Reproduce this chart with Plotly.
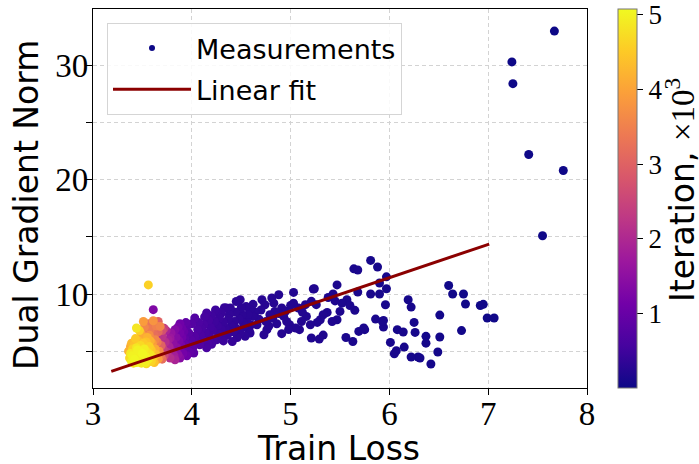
import plotly.graph_objects as go

# ---------------- data ----------------
train_loss = [
    # early outliers
    7.67, 7.24, 7.25, 7.41, 7.76, 7.55,
    # 6.2 - 7.1
    6.60, 6.64, 6.75, 6.77, 6.92, 6.95, 6.99, 7.06, 6.73, 6.51, 6.51, 6.37, 6.37, 6.49, 6.42, 6.31, 6.29, 6.22,
    # 5.8 - 6.3
    5.81, 5.88, 5.97, 5.90, 5.97, 5.90, 5.81, 5.96, 6.19, 6.22, 5.94, 5.94, 6.25, 6.08, 6.14, 6.26, 6.01, 6.15,
    6.07, 6.05, 5.86, 5.93,
    # 5.2 - 5.8
    5.64, 5.68, 5.47, 5.68, 5.65, 5.57, 5.52, 5.43, 5.50, 5.47, 5.42, 5.37, 5.33, 5.30, 5.27, 5.24, 5.21, 5.26,
    5.21, 5.29, 5.33, 5.56, 5.63, 5.69, 5.75, 5.74, 5.60, 5.45, 5.38,
    # 4.45 - 5.25
    5.03, 5.03, 4.88, 5.08, 5.15, 5.16, 5.20, 5.11, 5.09, 4.99, 5.05, 4.91, 4.76, 4.73, 4.71, 4.74, 4.83, 4.84,
    4.79, 4.93, 4.96, 4.91, 4.59, 4.62, 4.56, 4.66, 4.49, 4.51, 4.81, 5.23, 4.45, 4.55, 4.60, 4.64, 4.68, 4.70,
    4.75, 4.78, 4.82, 4.86, 4.88, 4.95, 4.98, 4.53, 4.58, 4.62, 5.00, 5.12,
    # 3.9 - 4.6 dense band
    3.92, 3.93, 3.95, 3.96, 3.97, 3.98, 3.99, 4.00, 4.01, 4.02, 4.03, 4.03, 4.05, 4.06, 4.07, 4.08, 4.09, 4.10,
    4.11, 4.12, 4.13, 4.14, 4.15, 4.16, 4.17, 4.18, 4.19, 4.20, 4.21, 4.22, 4.23, 4.24, 4.25, 4.25, 4.26, 4.27,
    4.28, 4.30, 4.30, 4.31, 4.32, 4.33, 4.34, 4.35, 4.36, 4.37, 4.38, 4.39, 4.40, 4.41, 4.42, 4.43, 4.44, 4.45,
    4.46, 4.48, 4.49, 4.50, 4.52, 4.54, 4.57, 4.59, 4.20, 4.32, 4.15,
    # 3.7 - 3.95
    3.70, 3.71, 3.72, 3.73, 3.74, 3.75, 3.76, 3.77, 3.78, 3.78, 3.79, 3.80, 3.81, 3.82, 3.83, 3.83, 3.84, 3.85,
    3.86, 3.86, 3.87, 3.88, 3.88, 3.89, 3.90, 3.90, 3.91, 3.92, 3.93, 3.94, 3.88, 3.95,
    # 3.35 - 3.72 late iterations
    3.56, 3.61, 3.51, 3.61, 3.44, 3.53, 3.68, 3.61, 3.60, 3.68, 3.38, 3.51,
    3.36, 3.37, 3.38, 3.39, 3.40, 3.40, 3.41, 3.42, 3.42, 3.43, 3.44, 3.44, 3.45, 3.46, 3.46, 3.47, 3.48, 3.48,
    3.49, 3.50, 3.50, 3.51, 3.52, 3.53, 3.54, 3.54, 3.55, 3.56, 3.57, 3.57, 3.58, 3.59, 3.59, 3.60, 3.61, 3.62,
    3.62, 3.63, 3.64, 3.64, 3.65, 3.66, 3.66, 3.67, 3.68, 3.69, 3.70, 3.70, 3.63, 3.58, 3.55, 3.49, 3.47, 3.52,
    3.56, 3.66, 3.72, 3.45, 3.53, 3.58, 3.39, 3.43,
]

grad_norm = [
    33.0, 30.3, 28.4, 22.2, 20.8, 15.1,
    10.75, 10.00, 10.00, 9.13, 9.00, 9.10, 7.90, 7.90, 6.80, 8.16, 6.24, 6.30, 5.70, 4.93, 3.88, 4.40, 4.49, 4.49,
    12.94, 12.36, 11.50, 10.96, 10.46, 10.00, 10.00, 9.06, 9.50, 8.86, 7.69, 7.11, 7.52, 6.88, 6.68, 6.64, 5.77, 5.36,
    5.04, 4.78, 7.81, 7.60,
    12.20, 12.10, 10.80, 10.17, 8.57, 9.50, 9.20, 10.00, 8.48, 7.75, 7.60, 8.39, 8.19, 7.75, 7.52, 10.46, 9.36, 9.07,
    6.15, 6.06, 6.41, 6.20, 5.85, 6.73, 6.88, 7.03, 9.00, 9.40, 9.70,
    10.14, 9.20, 9.94, 8.78, 9.07, 8.04, 7.31, 7.60, 6.88, 7.31, 7.03, 6.53, 6.88, 6.44, 9.50, 9.06, 9.20, 8.48,
    8.19, 8.04, 7.60, 8.78, 8.63, 8.04, 7.75, 7.31, 9.50, 8.19, 9.65, 10.44, 9.35, 8.90, 7.30, 8.40, 7.80, 8.60,
    7.60, 7.20, 7.90, 7.40, 8.30, 8.50, 6.90, 7.10, 6.80, 9.10, 9.00, 8.40,
    5.20, 6.10, 7.17, 5.60, 6.60, 4.90, 6.00, 7.40, 5.30, 4.84, 7.90, 6.30, 5.80, 6.90, 7.50, 5.56, 6.40, 7.00,
    5.90, 7.31, 8.00, 6.60, 8.34, 5.70, 7.70, 6.20, 7.10, 8.10, 6.80, 6.00, 7.60, 8.60, 6.00, 8.48, 7.20, 6.50,
    7.90, 8.34, 6.90, 6.20, 7.50, 8.80, 7.00, 8.78, 6.40, 7.80, 8.20, 8.78, 7.20, 5.85, 6.70, 7.60, 8.40, 7.00,
    6.20, 7.80, 6.60, 8.80, 7.50, 6.30, 8.20, 6.59, 5.60, 5.90, 5.30,
    6.30, 5.20, 4.60, 5.80, 6.80, 4.90, 6.00, 5.40, 6.15, 4.40, 6.60, 5.00, 5.70, 4.60, 6.88, 4.25, 6.20, 5.30,
    7.10, 4.70, 5.90, 6.60, 4.40, 5.50, 7.00, 6.20, 4.80, 6.70, 5.60, 7.50, 7.40, 4.60,
    10.80, 8.63, 7.60, 7.66, 7.03, 6.73, 7.17, 6.88, 6.15, 6.15, 5.42, 5.71,
    5.00, 4.40, 4.80, 4.10, 5.20, 4.60, 3.95, 5.60, 4.30, 4.90, 5.30, 4.00, 4.60, 5.90, 4.20, 5.00, 4.40, 5.50,
    3.95, 4.80, 6.20, 4.20, 5.20, 4.55, 5.80, 3.90, 4.90, 4.30, 5.40, 6.40, 4.70, 4.10, 5.10, 5.70, 4.50, 6.40,
    4.00, 5.20, 4.70, 7.20, 5.80, 4.30, 6.70, 5.00, 4.60, 5.50, 4.30, 6.80, 6.00, 6.90, 6.20, 6.50, 6.80, 7.10,
    7.40, 7.60, 7.00, 5.10, 4.00, 5.90, 5.70, 6.10,
]

iteration_k = [
    0.00, 0.01, 0.01, 0.02, 0.02, 0.03,
    0.04, 0.05, 0.04, 0.05, 0.03, 0.04, 0.03, 0.04, 0.06, 0.06, 0.07, 0.07, 0.08, 0.07, 0.08, 0.09, 0.08, 0.09,
    0.09, 0.10, 0.10, 0.11, 0.10, 0.11, 0.12, 0.11, 0.09, 0.10, 0.12, 0.12, 0.09, 0.10, 0.11, 0.10, 0.11, 0.10,
    0.12, 0.11, 0.13, 0.12,
    0.13, 0.14, 0.15, 0.14, 0.15, 0.16, 0.16, 0.17, 0.17, 0.16, 0.18, 0.18, 0.19, 0.19, 0.20, 0.18, 0.20, 0.19,
    0.18, 0.19, 0.17, 0.15, 0.14, 0.14, 0.13, 0.14, 0.16, 0.17, 0.17,
    0.21, 0.22, 0.23, 0.21, 0.20, 0.21, 0.20, 0.22, 0.22, 0.23, 0.23, 0.24, 0.26, 0.27, 0.26, 0.26, 0.25, 0.25,
    0.26, 0.24, 0.24, 0.24, 0.29, 0.29, 0.30, 0.28, 0.31, 0.31, 0.25, 0.19, 0.32, 0.30, 0.29, 0.28, 0.28, 0.27,
    0.27, 0.26, 0.25, 0.25, 0.24, 0.23, 0.23, 0.30, 0.29, 0.28, 0.22, 0.21,
    0.95, 0.90, 0.85, 0.88, 0.82, 0.92, 0.80, 0.75, 0.82, 0.85, 0.70, 0.74, 0.72, 0.68, 0.66, 0.70, 0.64, 0.62,
    0.63, 0.60, 0.58, 0.58, 0.55, 0.60, 0.55, 0.56, 0.53, 0.50, 0.52, 0.54, 0.49, 0.47, 0.50, 0.46, 0.47, 0.48,
    0.45, 0.43, 0.44, 0.45, 0.42, 0.40, 0.41, 0.39, 0.42, 0.38, 0.37, 0.36, 0.37, 0.40, 0.37, 0.35, 0.34, 0.35,
    0.36, 0.33, 0.34, 0.31, 0.31, 0.32, 0.30, 0.30, 0.55, 0.46, 0.60,
    2.20, 2.40, 2.60, 2.10, 1.90, 2.20, 1.80, 1.90, 1.70, 2.10, 1.60, 1.70, 1.50, 1.80, 1.35, 1.90, 1.40, 1.45,
    1.20, 1.50, 1.25, 1.15, 1.40, 1.20, 1.05, 1.10, 1.15, 1.00, 1.00, 0.90, 1.10, 1.05,
    4.60, 1.30, 3.90, 3.80, 4.85, 3.30, 3.60, 3.00, 2.80, 2.10, 4.10, 4.50,
    4.20, 4.70, 4.90, 4.95, 4.60, 5.00, 4.80, 4.40, 5.05, 4.75, 4.85, 5.00, 4.95, 4.30, 4.90, 5.00, 4.80, 4.70,
    4.90, 5.05, 4.10, 4.85, 4.95, 5.00, 4.40, 4.70, 4.80, 4.90, 4.60, 3.70, 4.85, 4.65, 4.50, 3.90, 4.55, 3.20,
    4.40, 4.10, 4.30, 3.50, 3.40, 3.90, 3.10, 3.70, 3.40, 3.00, 3.20, 2.70, 3.60, 3.40, 4.20, 4.00, 4.60, 3.60,
    3.30, 3.00, 2.40, 5.00, 4.95, 4.20, 4.30, 4.50,
]

fit_x = [3.185, 7.01]
fit_y = [3.23, 14.37]

x_ticks = [3, 4, 5, 6, 7, 8]
y_ticks = [5, 10, 15, 20, 25, 30]
y_tick_text = ["", "10", "", "20", "", "30"]
cbar_ticks = [1, 2, 3, 4, 5]

# draw in iteration order so later iterations sit on top
order = sorted(range(len(iteration_k)), key=lambda i: iteration_k[i])
xs = [train_loss[i] for i in order]
ys = [grad_norm[i] for i in order]
cs = [iteration_k[i] for i in order]

# ---------------- layout geometry ----------------
W, H = 699, 464
L, R, T, B = 93, 112, 9, 76
plot_w = W - L - R
plot_h = H - T - B


def px_to_paper_x(px):
    return (px - L) / plot_w


def px_to_paper_y(py):
    return 1 - (py - T) / plot_h


TICK_FONT = "Liberation Serif"
TEXT_FONT = "DejaVu Sans"

fig = go.Figure()

fig.add_trace(go.Scatter(
    x=xs, y=ys, mode="markers", name="Measurements",
    showlegend=False,
    marker=dict(
        size=9, color=cs, colorscale="Plasma", cmin=0, cmax=5.08,
        line=dict(width=0),
        colorbar=dict(
            x=px_to_paper_x(618.3), xanchor="left", xpad=0,
            y=0.5, yanchor="middle", ypad=0,
            len=1, lenmode="fraction",
            thickness=18.5, thicknessmode="pixels",
            tickvals=cbar_ticks, ticks="outside", ticklen=6, tickwidth=1, tickcolor="black",
            tickfont=dict(family=TICK_FONT, size=27, color="black"),
            outlinewidth=1, outlinecolor="#777777",
        ),
    ),
))

# legend entry for the measurements (small dot as in the reference legend)
fig.add_trace(go.Scatter(
    x=[None], y=[None], mode="markers", name="Measurements",
    legendgroup="a",
    marker=dict(size=6, color="#0d0887"),
))

fig.add_trace(go.Scatter(
    x=fit_x, y=fit_y, mode="lines", name="Linear fit",
    legendgroup="b",
    line=dict(color="#8b0000", width=3),
))

axis_common = dict(
    showline=True, linecolor="black", linewidth=1.2, mirror=True,
    ticks="outside", ticklen=6, tickwidth=1.2, tickcolor="black",
    showgrid=True, gridcolor="#d3d3d3", gridwidth=1, griddash="4px,3px",
    zeroline=False, automargin=False,
    tickfont=dict(family=TICK_FONT, size=33, color="black"),
)

title_font = dict(family=TEXT_FONT, size=33, color="black")

fig.update_layout(
    width=W, height=H,
    margin=dict(l=L, r=R, t=T, b=B, autoexpand=False),
    paper_bgcolor="white", plot_bgcolor="white",
    font=dict(family=TEXT_FONT, color="black"),
    xaxis=dict(range=[3, 8], tickvals=x_ticks, ticklabelstandoff=-10, **axis_common),
    yaxis=dict(range=[1.78, 34.93], tickvals=y_ticks, ticktext=y_tick_text,
               ticklabelstandoff=-9, **axis_common),
    legend=dict(
        x=px_to_paper_x(107), y=px_to_paper_y(23), xanchor="left", yanchor="top",
        bgcolor="rgba(255,255,255,0.85)", bordercolor="#d5d5d5", borderwidth=1,
        font=dict(family=TEXT_FONT, size=27, color="black"),
        itemwidth=78, traceorder="grouped", tracegroupgap=3,
    ),
    showlegend=True,
    annotations=[
        dict(text="Train Loss", xref="paper", yref="paper",
             x=px_to_paper_x(338), y=px_to_paper_y(448),
             xanchor="center", yanchor="middle", showarrow=False, font=title_font),
        dict(text="Dual Gradient Norm", xref="paper", yref="paper",
             x=px_to_paper_x(26), y=px_to_paper_y(205), textangle=-90,
             xanchor="center", yanchor="middle", showarrow=False, font=title_font),
        dict(text="Iteration, <span style='font-family:Liberation Serif'>×10<sup>3</sup></span>",
             xref="paper", yref="paper",
             x=px_to_paper_x(681), y=px_to_paper_y(190), textangle=-90,
             xanchor="center", yanchor="middle", showarrow=False, font=title_font),
    ],
)

fig.write_html("out.html", config={"displayModeBar": False},
               post_script="document.body.style.margin='0';")
